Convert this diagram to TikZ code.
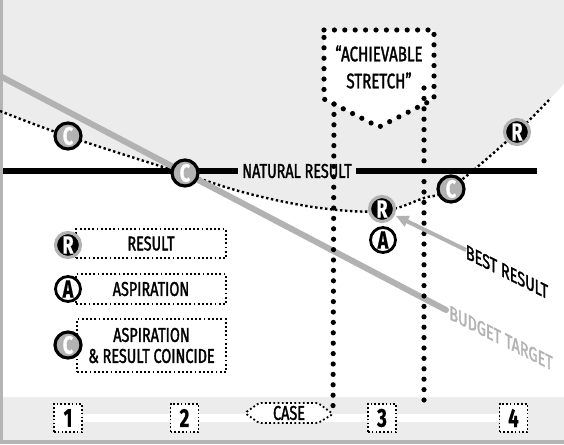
\documentclass[tikz,border=0pt]{standalone}
\usepackage{fontspec}
\setmainfont{Fira Sans}[FakeStretch=0.72, UprightFeatures={FakeBold=1.6}, BoldFeatures={FakeBold=0.6}]
\usetikzlibrary{arrows.meta}
\definecolor{bggray}{RGB}{236,236,236}
\definecolor{edgegray}{RGB}{180,180,180}
\definecolor{cgray}{RGB}{178,178,178}
\begin{document}
\begin{tikzpicture}[x=1pt,y=-1pt,
  lbl/.style={font=\fontsize{20}{21}\selectfont, inner sep=0pt, align=center},
  curvedots/.style={line width=2.4pt, dash pattern=on 2.4pt off 2.6pt},
  bigdots/.style={line width=5.2pt, line cap=round, dash pattern=on 0pt off 10.4pt},
  finedots/.style={line width=1.8pt, dash pattern=on 1.8pt off 2.4pt},
  legbox/.style={draw, finedots, fill=white, inner sep=0pt,
     font=\fontsize{20}{21}\selectfont, align=center},
  numbox/.style={draw, line width=1.6pt, dash pattern=on 1.6pt off 2.2pt, fill=white,
     minimum width=28pt, minimum height=28pt, inner sep=0pt, font=\bfseries\fontsize{26}{26}\selectfont},
  markC/.style={circle, minimum size=26pt, inner sep=0pt, draw=black, line width=3.2pt,
     fill=cgray, text=white, font=\bfseries\fontsize{25}{25}\selectfont},
  markR/.style={circle, minimum size=25pt, inner sep=0pt, draw=cgray, line width=3.2pt,
     fill=black, text=white, font=\bfseries\fontsize{25}{25}\selectfont},
  markA/.style={circle, minimum size=25pt, inner sep=0pt, draw=black, line width=2.8pt,
     fill=white, text=black, font=\bfseries\fontsize{25}{25}\selectfont},
  stripe/.style={white, line width=8pt},
]
\useasboundingbox (0,0) rectangle (564,444);
% backgrounds
\fill[bggray] (0,0) rectangle (564,444);
\fill[white] plot[smooth,tension=0.6] coordinates {(0,111) (67,136) (185,174) (250,194) (320,208) (382,211) (424,198) (451,188) (517,132) (564,84)}
   -- (564,397) -- (0,397) -- cycle;
\fill[edgegray] (0,440) rectangle (564,444);
\fill[edgegray] (0,0) rectangle (3,444);
% dotted curve
\begin{scope}
\clip (0,0) rectangle (550,444);
\draw[curvedots] plot[smooth,tension=0.6] coordinates {(0,111) (67,136) (185,174) (250,194) (320,208) (382,211) (424,198) (451,188) (517,132) (564,84)};
\end{scope}
% natural result line
\node[lbl] (nat) at (297,171) {NATURAL RESULT};
\coordinate (natL) at (3,171);
\coordinate (natR) at (537,171);
\draw[line width=6pt] (natL) -- ([xshift=-4pt]nat.west);
\draw[line width=6pt] ([xshift=4pt]nat.east) -- (natR);
% budget target line
\coordinate (bt0) at (0,76);
\coordinate (bt1) at (446,310);
\draw[cgray, line width=6pt, line cap=round] (bt0) -- (bt1);
\node[lbl, text=cgray, yslant=-0.5] (budlbl) at (501,338) {BUDGET TARGET};
% achievable stretch box
\coordinate (s1) at (324,30);
\coordinate (s2) at (434,30);
\coordinate (s3) at (434,99);
\coordinate (s4) at (379,127);
\coordinate (s5) at (324,99);
\fill[white] (s1) -- (s2) -- (s3) -- (s4) -- (s5) -- cycle;
\draw[bigdots] (s1) -- (s2) -- (s3) -- (s4) -- (s5) -- cycle;
\node[lbl, font=\fontsize{21}{27}\selectfont] (stretch) at (379,67) {“ACHIEVABLE\\STRETCH”};
% bottom band
\node[numbox] (n1) at (68,418) {1};
\node[numbox] (n2) at (184.5,418) {2};
\node[numbox] (n3) at (382,418) {3};
\node[numbox] (n4) at (513.5,418) {4};
\draw[stripe] (n1.east) -- (n2.west);
\draw[stripe] (n2.east) -- (n3.west);
\draw[stripe] (n3.east) -- (n4.west);
% case
\coordinate (c1) at (245,413);
\coordinate (c2) at (259,403);
\coordinate (c3) at (318,403);
\coordinate (c4) at (333,414);
\coordinate (c5) at (318,423);
\coordinate (c6) at (259,423);
\filldraw[fill=white, finedots, rounded corners=2pt] (c1) -- (c2) -- (c3) -- (c4) -- (c5) -- (c6) -- cycle;
\node[lbl, font=\fontsize{20}{20}\selectfont] (case) at (289,413) {CASE};
% vertical dotted lines
\coordinate (v1t) at (334,104);
\coordinate (v2t) at (424,88);
\coordinate (v2b) at (424,408);
\draw[bigdots] (v1t) -- (c4);
\draw[bigdots] (v2t) -- (v2b);
% legend
\node[legbox, minimum width=150pt, minimum height=29pt] (lres) at (151,243.5) {RESULT};
\node[legbox, minimum width=150pt, minimum height=30pt] (lasp) at (151,289) {ASPIRATION};
\node[legbox, minimum width=149pt, minimum height=53pt] (lcoi) at (151.5,345.5) {ASPIRATION\\\& RESULT COINCIDE};
\node[markR] (legR) at (68,245) {R};
\node[markA] (legA) at (68,289) {A};
\node[markC] (legC) at (68,345) {C};
% best result arrow
\coordinate (br0) at (466,250);
% circles
\node[markC] (mc1) at (68,136) {C};
\node[markC] (mc2) at (185,173) {C};
\node[markC] (mc3) at (451,189) {C};
\node[markR] (mr1) at (517,132) {R};
\node[markR] (mr2) at (382,209) {R};
\node[markA] (ma1) at (383,240) {A};
\draw[cgray, line width=4pt, -{Triangle[length=13pt,width=11pt]}, shorten >=1pt] (br0) -- (mr2.-26);
\node[lbl, yslant=-0.5] (bestlbl) at (507,272) {BEST RESULT};
\end{tikzpicture}
\end{document}
